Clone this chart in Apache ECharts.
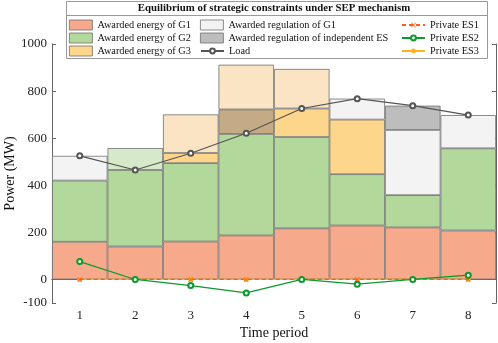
<!DOCTYPE html>
<html>
<head>
<meta charset="utf-8">
<script src="https://cdn.jsdelivr.net/npm/echarts@6.0.0/dist/echarts.min.js"></script>
<style>
  html, body { margin: 0; padding: 0; background: #fff; }
  #chart { width: 498px; height: 343px; }
</style>
</head>
<body>
<div id="chart"></div>
<script>
// values
const periods = ['1', '2', '3', '4', '5', '6', '7', '8'];
const energyG1 = [160, 140, 161, 187, 217, 229, 221, 208];
const energyG2 = [260, 325, 333, 431, 388, 218, 137, 349];
const energyG3 = [0, 0, 43, 0, 121, 232, 0, 0];
const regG1 = [105, 0, 0, 0, 0, 89, 277, 141];
const regES = [0, 0, 0, 104, 0, 0, 103, 0];
const regG2 = [0, 93, 0, 0, 0, 0, 0, 0];
const regG3 = [0, 0, 164, 190, 168, 0, 0, 0];
const load = [525, 465, 536, 621, 726, 768, 738, 698];
const privES1 = [0, 0, 0, 0, 0, 0, 0, 0];
const privES2 = [76, 0, -26, -57, 0, -20, 0, 18];
const privES3 = [0, 0, 0, 0, 0, 0, 0, 0];
const yTicks = [-100, 0, 200, 400, 600, 800, 1000];

const FONT = 'Liberation Serif';
const chart = echarts.init(document.getElementById('chart'));

const edge = { borderColor: '#707070', borderWidth: 0.8 };
const blank = v => (v === 0 ? '-' : v);

function barSeries(name, data, color) {
  return {
    name,
    type: 'bar',
    stack: 'power',
    barCategoryGap: '0%',
    data: data.map(blank),
    itemStyle: { color, ...edge },
    emphasis: { disabled: true }
  };
}

const crossPath = 'path://M0,1L1,0L5,4L9,0L10,1L6,5L10,9L9,10L5,6L1,10L0,9L4,5Z';

const legendText = { fontFamily: FONT, fontSize: 10.3, color: '#111', lineHeight: 13 };
const legendBase = {
  orient: 'vertical', padding: 0, itemGap: 0, itemWidth: 23, itemHeight: 10,
  textStyle: legendText, selectedMode: false, top: 18.5, z: 60
};
const barLegend = { ...legendBase, icon: 'rect', itemStyle: { borderColor: '#707070', borderWidth: 0.8 } };
const lineLegend = { ...legendBase, itemHeight: 6 };

chart.setOption({
  animation: false,
  textStyle: { fontFamily: FONT },
  grid: { left: 52, right: 2, top: 44, bottom: 40, containLabel: false, outerBoundsMode: 'none' },
  graphic: [
    { type: 'rect', z: 50, shape: { x: 66.5, y: 1.5, width: 421, height: 57 },
      style: { fill: '#fff', stroke: '#9a9a9a', lineWidth: 1 } },
    { type: 'line', z: 51, shape: { x1: 66.5, y1: 15.5, x2: 487.5, y2: 15.5 },
      style: { stroke: '#9a9a9a', lineWidth: 1 } },
    { type: 'text', z: 51, x: 274, y: 8.5,
      style: { text: 'Equilibrium of strategic constraints under SEP mechanism',
        font: 'bold 10.8px "Liberation Serif"', fill: '#111', align: 'center', verticalAlign: 'middle' } }
  ],
  legend: [
    { ...barLegend, left: 69,
      data: ['Awarded energy of G1', 'Awarded energy of G2', 'Awarded energy of G3'] },
    { ...barLegend, left: 200,
      data: ['Awarded regulation of G1', 'Awarded regulation of independent ES'] },
    { ...lineLegend, left: 200, top: 18.5 + 26, data: ['Load'] },
    { ...lineLegend, left: 401, data: ['Private ES1', 'Private ES2', 'Private ES3'] }
  ],
  xAxis: [
    {
      type: 'category', data: periods,
      name: 'Time period', nameLocation: 'middle', nameGap: 23, nameMoveOverlap: false,
      nameTextStyle: { fontFamily: FONT, fontSize: 14, color: '#111' },
      axisLine: { lineStyle: { color: '#666', width: 1 } },
      axisTick: { inside: true, length: 4, alignWithLabel: true, lineStyle: { color: '#666' } },
      axisLabel: { fontFamily: FONT, fontSize: 13, color: '#222', margin: 6 },
      splitLine: { show: false }
    },
    {
      type: 'category', data: periods, position: 'top',
      axisLine: { lineStyle: { color: '#666', width: 1 } },
      axisTick: { show: false }, axisLabel: { show: false }
    }
  ],
  yAxis: [
    {
      type: 'value', min: -100, max: 1000,
      name: 'Power (MW)', nameLocation: 'middle', nameGap: 35, nameMoveOverlap: false,
      nameTextStyle: { fontFamily: FONT, fontSize: 14, color: '#111' },
      axisLine: { show: true, lineStyle: { color: '#666', width: 1 } },
      axisTick: { show: true, inside: true, length: 4, customValues: yTicks, lineStyle: { color: '#666' } },
      axisLabel: { fontFamily: FONT, fontSize: 13, color: '#222', margin: 5, customValues: yTicks,
        formatter: v => String(v) },
      splitLine: { show: false }
    },
    {
      type: 'value', min: -100, max: 1000, position: 'right',
      axisLine: { show: true, lineStyle: { color: '#666', width: 1 } },
      axisTick: { show: true, inside: true, length: 4, customValues: yTicks, lineStyle: { color: '#666' } },
      axisLabel: { show: false },
      splitLine: { show: false }
    }
  ],
  series: [
    barSeries('Awarded energy of G1', energyG1, '#f7a98c'),
    barSeries('Awarded energy of G2', energyG2, '#b3d89b'),
    barSeries('Awarded energy of G3', energyG3, '#fdd68b'),
    barSeries('Awarded regulation of G1', regG1, '#f3f3f3'),
    {
      ...barSeries('Awarded regulation of independent ES', regES, '#bdbdbd'),
      // period 4 shows the ES block over the G3 regulation tint
      data: regES.map((v, i) => (v === 0 ? '-' : i === 3 ? { value: v, itemStyle: { color: '#c4ab86' } } : v))
    },
    barSeries('Awarded regulation of G2', regG2, '#d6e9c9'),
    barSeries('Awarded regulation of G3', regG3, '#fae4c3'),
    {
      name: 'Load', type: 'line', data: load, z: 5,
      symbol: 'emptyCircle', symbolSize: 5,
      lineStyle: { color: '#555', width: 1.2 },
      itemStyle: { color: '#555', borderWidth: 1 }
    },
    {
      name: 'Private ES1', type: 'line', data: privES1, z: 7,
      symbol: crossPath, symbolSize: 5,
      lineStyle: { color: '#ff5a1f', width: 1.2, type: [4, 3] },
      itemStyle: { color: '#ff5a1f' }
    },
    {
      name: 'Private ES2', type: 'line', data: privES2, z: 8,
      symbol: 'emptyCircle', symbolSize: 5,
      lineStyle: { color: '#0b9a2b', width: 1.2 },
      itemStyle: { color: '#0b9a2b', borderWidth: 1.2 }
    },
    {
      name: 'Private ES3', type: 'line', data: privES3, z: 6,
      symbol: 'circle', symbolSize: 5,
      lineStyle: { color: '#ffb21a', width: 1.2 },
      itemStyle: { color: '#ffb21a' }
    }
  ]
});
</script>
</body>
</html>
